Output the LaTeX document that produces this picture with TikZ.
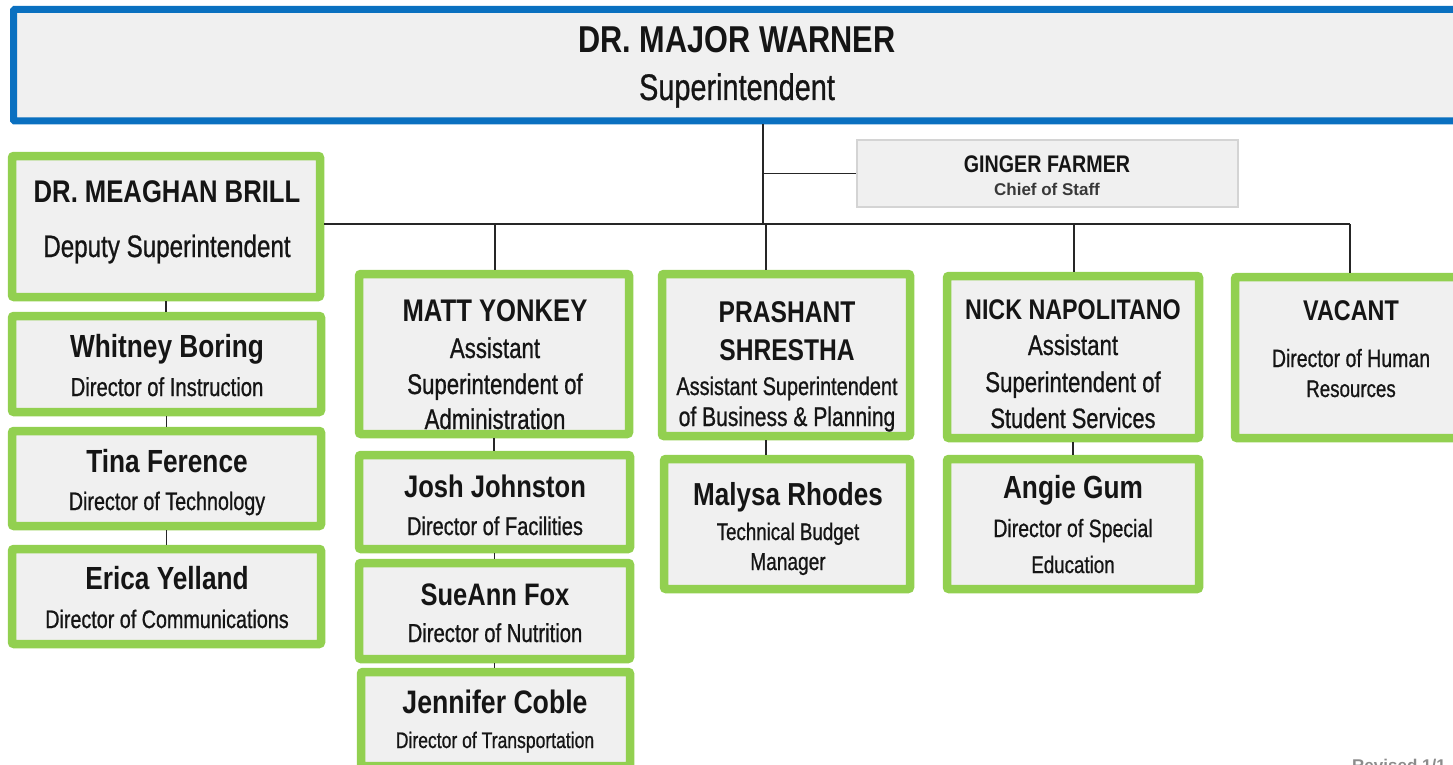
\documentclass[tikz,border=0pt]{standalone}
\usepackage{fontspec}
\newfontfamily\nfam[FakeStretch=0.82]{Liberation Sans}
\newfontfamily\tfam[FakeStretch=0.78,FakeBold=0.8]{Liberation Sans}
\newfontfamily\cfam{Liberation Sans}
\definecolor{gborder}{HTML}{92D050}
\definecolor{bborder}{HTML}{0A70C0}
\definecolor{boxfill}{HTML}{F0F0F0}
\definecolor{ink}{HTML}{151515}
\definecolor{gline}{HTML}{D4D4D4}
\tikzset{
  gbox/.style={draw=gborder, line width=8.5pt, fill=boxfill, rounded corners=2pt, inner sep=0pt},
  bbox/.style={draw=bborder, line width=7pt, fill=boxfill, rounded corners=1pt, inner sep=0pt},
  cbox/.style={draw=gline, line width=1.5pt, fill=boxfill, inner sep=0pt},
  nm/.style={anchor=base, inner sep=0pt, text=ink, font=\nfam\bfseries\fontsize{#1}{#1}\selectfont},
  tt/.style={anchor=base, inner sep=0pt, text=ink, font=\tfam\fontsize{#1}{#1}\selectfont},
  conn/.style={draw=black!85, line width=1.4pt},
}
\begin{document}
\begin{tikzpicture}[x=1pt, y=-1pt]
\useasboundingbox (0,0) rectangle (1453,765);
\clip (0,0) rectangle (1453,765);

% boxes
\node[bbox, minimum width=1456.5pt, minimum height=111.5pt] (top) at (741.75,65.25) {};
\node[cbox, minimum width=381pt, minimum height=67pt] (ging) at (1047.5,173.5) {};
\node[gbox, minimum width=308pt, minimum height=141pt] (meag) at (166,226.5) {};
\node[gbox, minimum width=309pt, minimum height=96pt] (whit) at (166.5,364) {};
\node[gbox, minimum width=309pt, minimum height=95pt] (tina) at (166.5,478.5) {};
\node[gbox, minimum width=309pt, minimum height=95pt] (eric) at (166.5,596.5) {};
\node[gbox, minimum width=270pt, minimum height=160pt] (matt) at (494,354) {};
\node[gbox, minimum width=271pt, minimum height=94pt] (josh) at (494.5,502) {};
\node[gbox, minimum width=271pt, minimum height=96pt] (suea) at (494.5,611) {};
\node[gbox, minimum width=269pt, minimum height=94pt] (jenn) at (495.5,719) {};
\node[gbox, minimum width=248pt, minimum height=162pt] (pras) at (786,355) {};
\node[gbox, minimum width=246pt, minimum height=130pt] (maly) at (787,524) {};
\node[gbox, minimum width=252pt, minimum height=162pt] (nick) at (1073,357) {};
\node[gbox, minimum width=252pt, minimum height=130pt] (angi) at (1073,524) {};
\node[gbox, minimum width=235pt, minimum height=161pt] (vaca) at (1352.5,357.5) {};

% connectors
\coordinate (j0) at (763,224);
\coordinate (dm) at (495,224);
\coordinate (dp) at (766,224);
\coordinate (dn) at (1074,224);
\coordinate (dv) at (1350,224);
\draw[conn] (top.south -| j0) -- (j0);
\draw[conn] (ging.west -| j0) -- (ging.west);
\draw[conn] (meag.east |- j0) -- (dv);
\draw[conn] (dm) -- (dm |- matt.north);
\draw[conn] (dp) -- (dp |- pras.north);
\draw[conn] (dn) -- (dn |- nick.north);
\draw[conn] (dv) -- (dv |- vaca.north);
\draw[conn] (meag.south) -- (meag.south |- whit.north);
\draw[conn] (whit.south) -- (whit.south |- tina.north);
\draw[conn] (tina.south) -- (tina.south |- eric.north);
\draw[conn] (matt.south) -- (matt.south |- josh.north);
\draw[conn] (josh.south) -- (josh.south |- suea.north);
\draw[conn] (suea.south) -- (suea.south |- jenn.north);
\draw[conn] (pras.south -| dp) -- (maly.north -| dp);
\draw[conn] (nick.south) -- (nick.south |- angi.north);

% texts
\node[nm=37.4] (top-n) at (737,53) {DR. MAJOR WARNER};
\node[tt=37] (top-t) at (737,100) {Superintendent};

\node[nm=24] (ging-n) at (1047,172) {GINGER FARMER};
\node[anchor=base, inner sep=0pt, text=black!78, font=\cfam\bfseries\fontsize{17}{17}\selectfont] (ging-t) at (1047,195) {Chief of Staff};

\node[nm=31.3] (meag-n) at (167,202) {DR. MEAGHAN BRILL};
\node[tt=31] (meag-t) at (167,257) {Deputy Superintendent};

\node[nm=32] (whit-n) at (167,357) {Whitney Boring};
\node[tt=26] (whit-t) at (167,396) {Director of Instruction};
\node[nm=32] (tina-n) at (167,472) {Tina Ference};
\node[tt=25.3] (tina-t) at (167,510) {Director of Technology};
\node[nm=32] (eric-n) at (167,589) {Erica Yelland};
\node[tt=25.3] (eric-t) at (167,628) {Director of Communications};

\node[nm=31.3] (matt-n) at (495,321) {MATT YONKEY};
\node[tt=28.5] (matt-t1) at (495,358) {Assistant};
\node[tt=28.5] (matt-t2) at (495,394) {Superintendent of};
\node[tt=28.5] (matt-t3) at (495,429) {Administration};
\node[nm=31.2] (josh-n) at (495,497) {Josh Johnston};
\node[tt=25.7] (josh-t) at (495,535) {Director of Facilities};
\node[nm=31.1] (suea-n) at (495,605) {SueAnn Fox};
\node[tt=26] (suea-t) at (495,642) {Director of Nutrition};
\node[nm=32.5] (jenn-n) at (495,713) {Jennifer Coble};
\node[tt=22.5] (jenn-t) at (495,748) {Director of Transportation};

\node[nm=30] (pras-n1) at (787,322) {PRASHANT};
\node[nm=30] (pras-n2) at (787,360) {SHRESTHA};
\node[tt=25.5] (pras-t1) at (787,395) {Assistant Superintendent};
\node[tt=27] (pras-t2) at (787,426) {of Business \& Planning};
\node[nm=31.8] (maly-n) at (788,505) {Malysa Rhodes};
\node[tt=24] (maly-t1) at (788,540) {Technical Budget};
\node[tt=24.5] (maly-t2) at (788,570) {Manager};

\node[nm=28.4] (nick-n) at (1073,319) {NICK NAPOLITANO};
\node[tt=28.5] (nick-t1) at (1073,355) {Assistant};
\node[tt=28.5] (nick-t2) at (1073,392) {Superintendent of};
\node[tt=28] (nick-t3) at (1073,428) {Student Services};
\node[nm=32] (angi-n) at (1073,498) {Angie Gum};
\node[tt=25] (angi-t1) at (1073,537) {Director of Special};
\node[tt=24] (angi-t2) at (1073,573) {Education};

\node[nm=28.5] (vaca-n) at (1351,320) {VACANT};
\node[tt=25] (vaca-t1) at (1351,367) {Director of Human};
\node[tt=24] (vaca-t2) at (1351,397) {Resources};

\node[anchor=base west, inner sep=0pt, text=black!45, font=\cfam\bfseries\fontsize{17}{17}\selectfont] (rev) at (1352,771) {Revised 1/1};
\end{tikzpicture}
\end{document}
